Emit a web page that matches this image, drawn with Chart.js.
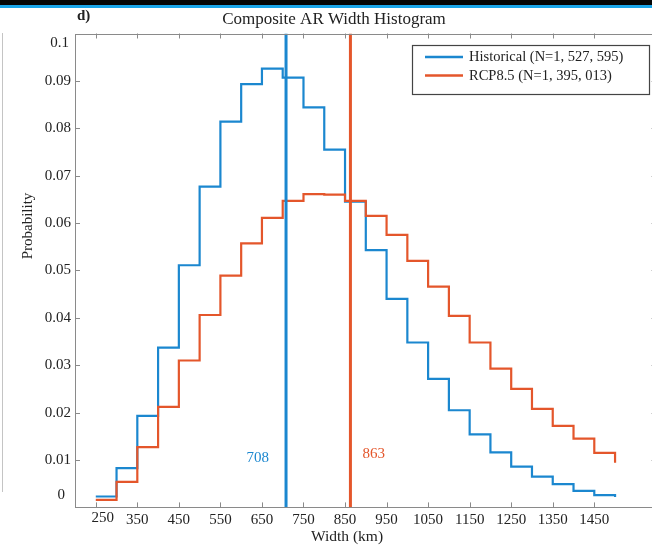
<!DOCTYPE html>
<html>
<head>
<meta charset="utf-8">
<script src="https://cdn.jsdelivr.net/npm/chart.js@4/dist/chart.umd.min.js"></script>
<style>
  html, body { margin: 0; padding: 0; background: #fff; overflow: hidden; width: 652px; height: 549px; }
  #wrap { position: relative; width: 652px; height: 549px; overflow: hidden; }
  #grafico { position: absolute; left: 0; top: 0; }
  .faixa { position: absolute; left: 0; width: 652px; }
</style>
</head>
<body>
<div id="wrap">
  <canvas id="grafico" width="660" height="549"></canvas>
  <div class="faixa" style="top:0;height:5px;background:#050505"></div>
  <div class="faixa" style="top:5px;height:3px;background:#1ba5e8"></div>
  <div style="position:absolute;left:2px;top:33px;width:1px;height:459px;background:#c4c4c4"></div>
</div>
<script>
// bin edges (km) - each value is the bin starting at that edge, last one is the closing edge
const binEdges = [250, 300, 350, 400, 450, 500, 550, 600, 650, 700, 750, 800, 850,
                  900, 950, 1000, 1050, 1100, 1150, 1200, 1250, 1300, 1350, 1400, 1450, 1500];
const historical = [0.0023, 0.0083, 0.0193, 0.0337, 0.0511, 0.0677, 0.0814, 0.0893, 0.0926,
                    0.0907, 0.0844, 0.0755, 0.0645, 0.0543, 0.0440, 0.0348, 0.0271, 0.0205,
                    0.0154, 0.0116, 0.0086, 0.0065, 0.0049, 0.0035, 0.0026, 0.0022];
const rcp85 = [0.0016, 0.0054, 0.0127, 0.0212, 0.0310, 0.0406, 0.0489, 0.0557, 0.0611,
               0.0647, 0.0661, 0.0660, 0.0647, 0.0615, 0.0575, 0.0520, 0.0466, 0.0404,
               0.0348, 0.0293, 0.0250, 0.0208, 0.0172, 0.0145, 0.0115, 0.0094];
const meanWidths = [708, 863];
const seriesNames = ['Historical (N=1, 527, 595)', 'RCP8.5 (N=1, 395, 013)'];
const xTickValues = [250, 350, 450, 550, 650, 750, 850, 950, 1050, 1150, 1250, 1350, 1450];
const yTickValues = [0, 0.01, 0.02, 0.03, 0.04, 0.05, 0.06, 0.07, 0.08, 0.09, 0.1];

const azul = '#1b87cf';
const laranja = '#e4562b';
const serif = '"Liberation Serif", "Times New Roman", serif';

function pontos(valores) {
    return binEdges.map((x, i) => ({x: x, y: valores[i]}));
}

function linhaMedia(valor) {
    return [{x: valor, y: 0}, {x: valor, y: 0.1}];
}

// end labels are nudged inward in the original figure, so they are drawn by hand
const yFmt = v => (v === 0 ? '0' : String(+v.toFixed(2)));
const primeiroX = xTickValues[0];
const ultimoY = yTickValues[yTickValues.length - 1];

// draws the box, inward ticks, titles, legend and mean labels
const extras = {
    id: 'extras',
    afterDraw(chart) {
        const ctx = chart.ctx;
        const a = chart.chartArea;
        const x = chart.scales.x;
        const y = chart.scales.y;
        ctx.save();

        ctx.strokeStyle = '#8a8a8a';
        ctx.lineWidth = 1;
        ctx.strokeRect(Math.round(a.left) + 0.5, Math.round(a.top) + 0.5,
                       Math.round(a.width) - 1, Math.round(a.height) - 1);

        ctx.beginPath();
        xTickValues.forEach(v => {
            const px = Math.round(x.getPixelForValue(v)) + 0.5;
            ctx.moveTo(px, a.bottom); ctx.lineTo(px, a.bottom - 5);
            ctx.moveTo(px, a.top); ctx.lineTo(px, a.top + 5);
        });
        yTickValues.forEach(v => {
            const py = Math.round(y.getPixelForValue(v)) + 0.5;
            ctx.moveTo(a.left, py); ctx.lineTo(a.left + 5, py);
            ctx.moveTo(a.right, py); ctx.lineTo(a.right - 5, py);
        });
        ctx.stroke();

        ctx.fillStyle = '#222';
        ctx.textBaseline = 'middle';
        ctx.font = '15px ' + serif;
        ctx.textAlign = 'right';
        ctx.fillText(yFmt(0), a.left - 10, y.getPixelForValue(0) - 12);
        ctx.fillText(yFmt(ultimoY), a.left - 6, y.getPixelForValue(ultimoY) + 10);
        ctx.textAlign = 'center';
        ctx.fillText(String(primeiroX), x.getPixelForValue(primeiroX) + 7, a.bottom + 11);

        ctx.font = '17px ' + serif;
        ctx.fillText('Composite AR Width Histogram', 334, 20);
        ctx.font = '15.5px ' + serif;
        ctx.fillText('Width (km)', 347, 537);

        ctx.textAlign = 'left';
        ctx.font = 'bold 15px ' + serif;
        ctx.fillText('d)', 77, 16);

        ctx.save();
        ctx.translate(28, 226);
        ctx.rotate(-Math.PI / 2);
        ctx.textAlign = 'center';
        ctx.font = '15px ' + serif;
        ctx.fillText('Probability', 0, 0);
        ctx.restore();

        // mean labels
        ctx.font = '15px ' + serif;
        const py = y.getPixelForValue(0.01);
        ctx.fillStyle = azul;
        ctx.textAlign = 'right';
        ctx.fillText(String(meanWidths[0]), x.getPixelForValue(meanWidths[0]) - 17, py - 2);
        ctx.fillStyle = laranja;
        ctx.textAlign = 'left';
        ctx.fillText(String(meanWidths[1]), x.getPixelForValue(meanWidths[1]) + 12, py - 6);

        // legend
        ctx.fillStyle = '#fff';
        ctx.fillRect(412.5, 45.5, 237, 49);
        ctx.strokeStyle = '#444';
        ctx.lineWidth = 1.2;
        ctx.strokeRect(412.5, 45.5, 237, 49);
        const cores = [azul, laranja];
        const linhasY = [57, 75.5];
        ctx.font = '14.5px ' + serif;
        ctx.textAlign = 'left';
        seriesNames.forEach((nome, i) => {
            ctx.strokeStyle = cores[i];
            ctx.lineWidth = 2.5;
            ctx.beginPath();
            ctx.moveTo(425, linhasY[i]);
            ctx.lineTo(463, linhasY[i]);
            ctx.stroke();
            ctx.fillStyle = '#222';
            ctx.fillText(nome, 469, linhasY[i] + 0.5);
        });

        ctx.restore();
    }
};

const ctx = document.getElementById('grafico').getContext('2d');
const grafico = new Chart(ctx, {
    type: 'line',
    data: {
        datasets: [
            {
                label: seriesNames[1],
                data: pontos(rcp85),
                borderColor: laranja,
                borderWidth: 2.2,
                stepped: true,
                pointRadius: 0,
                fill: false,
                order: 1,
            },
            {
                label: seriesNames[0],
                data: pontos(historical),
                borderColor: azul,
                borderWidth: 2.2,
                stepped: true,
                pointRadius: 0,
                fill: false,
                order: 2,
            },
            {
                label: 'mean historical',
                data: linhaMedia(meanWidths[0]),
                borderColor: azul,
                borderWidth: 3,
                pointRadius: 0,
                order: 0,
            },
            {
                label: 'mean rcp',
                data: linhaMedia(meanWidths[1]),
                borderColor: laranja,
                borderWidth: 3,
                pointRadius: 0,
                order: 0,
            },
        ],
    },
    options: {
        responsive: false,
        animation: false,
        devicePixelRatio: 1,
        layout: { padding: { left: 0, right: 3.4, top: 33.5, bottom: 0 } },
        plugins: {
            legend: { display: false },
            title: { display: false },
            tooltip: { enabled: false },
        },
        scales: {
            x: {
                type: 'linear',
                min: 200,
                max: 1600,
                grid: { display: false, drawTicks: false },
                border: { display: false },
                afterBuildTicks: scale => { scale.ticks = xTickValues.map(v => ({value: v})); },
                afterFit: scale => { scale.height = 41.6; },
                ticks: {
                    autoSkip: false,
                    maxRotation: 0,
                    padding: 4,
                    color: '#222',
                    font: { family: serif, size: 15 },
                    callback: v => (v === primeiroX ? '' : String(v)),
                },
            },
            y: {
                type: 'linear',
                min: 0,
                max: 0.1,
                grid: { display: false, drawTicks: false },
                border: { display: false },
                afterBuildTicks: scale => { scale.ticks = yTickValues.map(v => ({value: v})); },
                afterFit: scale => { scale.width = 75; },
                ticks: {
                    padding: 4,
                    color: '#222',
                    font: { family: serif, size: 15 },
                    callback: v => (v === 0 || v === ultimoY ? '' : yFmt(v)),
                },
            },
        },
    },
    plugins: [extras],
});
</script>
</body>
</html>
